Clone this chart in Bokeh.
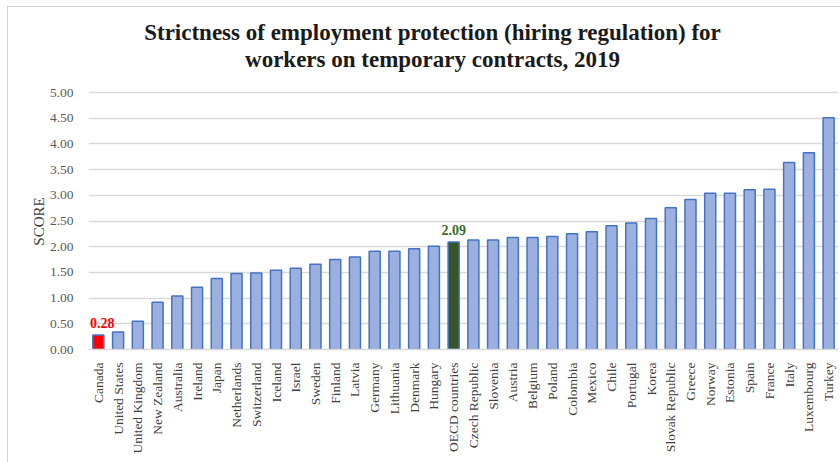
import math
from bokeh.plotting import figure
from bokeh.models import (ColumnDataSource, LabelSet, Label, FixedTicker,
                          NumeralTickFormatter, Range1d)
from bokeh.embed import file_html
from bokeh.resources import INLINE

# ---- data ----
countries = ["Canada", "United States", "United Kingdom", "New Zealand", "Australia",
             "Ireland", "Japan", "Netherlands", "Switzerland", "Iceland", "Israel",
             "Sweden", "Finland", "Latvia", "Germany", "Lithuania", "Denmark", "Hungary",
             "OECD countries", "Czech Republic", "Slovenia", "Austria", "Belgium", "Poland",
             "Colombia", "Mexico", "Chile", "Portugal", "Korea", "Slovak Republic", "Greece",
             "Norway", "Estonia", "Spain", "France", "Italy", "Luxembourg", "Turkey"]
scores = [0.28, 0.34, 0.55, 0.92, 1.04, 1.21, 1.38, 1.48, 1.49, 1.54, 1.58,
          1.66, 1.75, 1.80, 1.91, 1.91, 1.96, 2.01, 2.09, 2.13, 2.13, 2.18, 2.18, 2.20,
          2.25, 2.29, 2.41, 2.46, 2.55, 2.76, 2.92, 3.04, 3.04, 3.11, 3.12, 3.64, 3.83, 4.51]
y_ticks = [0.0, 0.5, 1.0, 1.5, 2.0, 2.5, 3.0, 3.5, 4.0, 4.5, 5.0]
labelled = ["Canada", "OECD countries"]
title_lines = ["Strictness of employment protection (hiring regulation) for",
               "workers on temporary contracts, 2019"]
y_axis_title = "SCORE"

# ---- styles ----
BAR = "#9CB0E0"
EDGE = "#4472C4"
HIGHLIGHT = {"Canada": "#FF0000", "OECD countries": "#375623"}
LABEL_COLORS = {"Canada": "#FF0000", "OECD countries": "#3B6B22"}
LABEL_NUDGE = {"Canada": 4}          # keep the first label inside the plot area
SERIF = "Liberation Serif"
Y_TOP = 6.654                        # headroom above 5.00 that holds the title

colors = [HIGHLIGHT.get(c, BAR) for c in countries]
src = ColumnDataSource(dict(country=countries, score=scores, color=colors))

lab_x = [c for c in countries if c in labelled]
lab_y = [scores[countries.index(c)] for c in lab_x]
lab_src = ColumnDataSource(dict(
    x=lab_x, y=lab_y, t=["%.2f" % v for v in lab_y],
    c=[LABEL_COLORS[c] for c in lab_x], dx=[LABEL_NUDGE.get(c, 0) for c in lab_x]))

p = figure(x_range=countries, y_range=Range1d(0, Y_TOP), width=833, height=456,
           output_backend="svg", toolbar_location=None,
           min_border_left=80, min_border_right=3, min_border_top=0, min_border_bottom=114,
           margin=(6, 0, 0, 7))
p.styles = {"border-left": "1px solid #D4D4D4", "border-top": "1px solid #D4D4D4"}

p.vbar(x="country", top="score", width=0.56, source=src,
       fill_color="color", line_color=EDGE, line_width=1.5)

p.add_layout(LabelSet(x="x", y="y", text="t", source=lab_src, text_color="c",
                      x_offset="dx", y_offset=7,
                      text_align="center", text_baseline="bottom",
                      text_font=SERIF, text_font_style="bold", text_font_size="14px"))

p.outline_line_color = None
p.background_fill_color = "white"
p.border_fill_color = "white"
p.xgrid.visible = False
p.ygrid.ticker = FixedTicker(ticks=y_ticks)
p.ygrid.grid_line_color = "#D9D9D9"
p.ygrid.grid_line_width = 1.5

p.yaxis.ticker = FixedTicker(ticks=y_ticks)
p.yaxis.formatter = NumeralTickFormatter(format="0.00")
p.yaxis.bounds = (0, 5)
p.yaxis.axis_line_color = None
p.yaxis.major_tick_line_color = None
p.yaxis.minor_tick_line_color = None
p.yaxis.major_label_standoff = 9
p.yaxis.major_label_text_font = SERIF
p.yaxis.major_label_text_font_size = "13.5px"
p.yaxis.major_label_text_color = "#595959"

# y-axis title in its own panel to the left of the tick labels
p.add_layout(Label(x=8, y=128, x_units="screen", y_units="screen", angle=math.pi / 2,
                   text=y_axis_title, text_align="center", text_baseline="middle",
                   text_font=SERIF, text_font_size="15px", text_color="#404040"), "left")

p.xaxis.major_label_orientation = math.pi / 2
p.xaxis.axis_line_color = "#D9D9D9"
p.xaxis.axis_line_width = 1.5
p.xaxis.major_tick_line_color = None
p.xaxis.minor_tick_line_color = None
p.xaxis.major_label_standoff = 7
p.xaxis.major_label_text_font = SERIF
p.xaxis.major_label_text_font_size = "13.5px"
p.xaxis.major_label_text_color = "#404040"

# title lines (screen units, measured from the plot area's lower-left corner)
for i, line in enumerate(title_lines):
    p.add_layout(Label(x=344, y=317 - 27 * i, x_units="screen", y_units="screen",
                       text=line, text_align="center", text_baseline="middle",
                       text_font=SERIF, text_font_style="bold", text_font_size="23px",
                       text_color="#1a1a1a"))

open("out.html", "w").write(file_html(p, INLINE))
